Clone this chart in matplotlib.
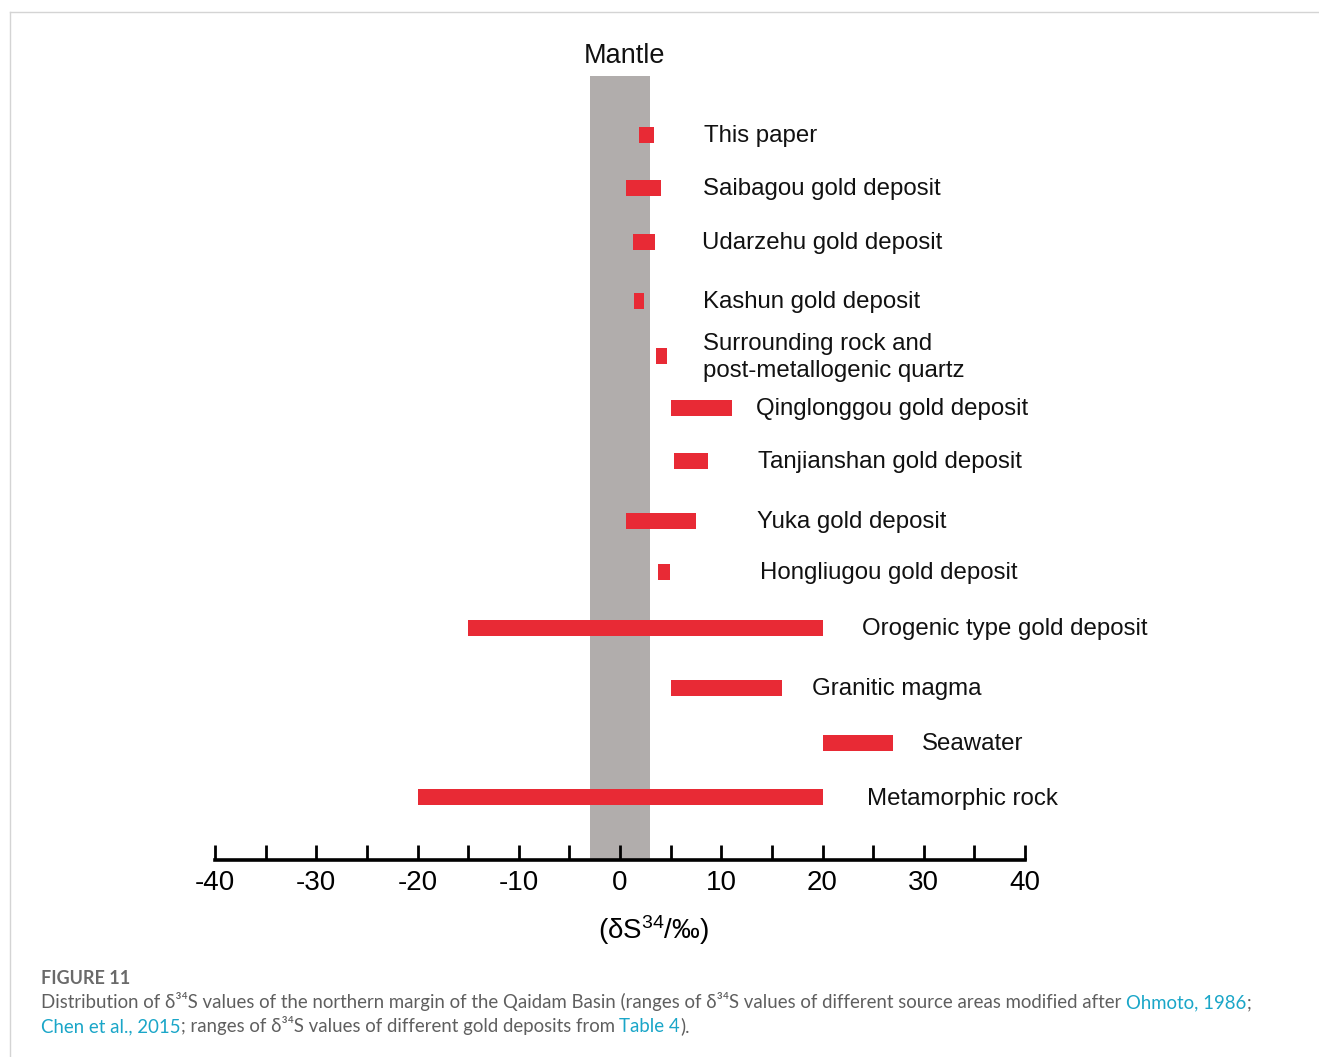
import matplotlib
matplotlib.use("Agg")
import matplotlib.pyplot as plt
from matplotlib.lines import Line2D

plt.rcParams["axes.unicode_minus"] = False
plt.rcParams["mathtext.fontset"] = "custom"
plt.rcParams["mathtext.rm"] = "Liberation Sans"
plt.rcParams["mathtext.it"] = "Liberation Sans"

# sources / deposits and their d34S ranges (per mil)
labels = ["This paper", "Saibagou gold deposit", "Udarzehu gold deposit",
          "Kashun gold deposit", "Surrounding rock and\npost-metallogenic quartz",
          "Qinglonggou gold deposit", "Tanjianshan gold deposit", "Yuka gold deposit",
          "Hongliugou gold deposit", "Orogenic type gold deposit", "Granitic magma",
          "Seawater", "Metamorphic rock"]
lows = [1.9, 0.6, 1.3, 1.4, 3.6, 5.0, 5.3, 0.6, 3.8, -15.0, 5.0, 20.0, -20.0]
highs = [3.4, 4.0, 3.5, 2.4, 4.6, 11.1, 8.7, 7.5, 4.9, 20.0, 16.0, 27.0, 20.0]
mantle = (-3, 3)
xticks = list(range(-40, 41, 5))

# layout (pixel rows of the bars, x of the labels in data units)
ypos = [135, 188, 242, 301, 356, 408, 461, 521, 572, 628, 688, 743, 797]
label_x = [8.3, 8.2, 8.1, 8.2, 8.2, 13.4, 13.6, 13.5, 13.8, 23.9, 19.0, 29.8, 24.4]

W, H = 1319, 1057
fig = plt.figure(figsize=(W / 100, H / 100), dpi=100)

# frame lines of the page
fig.add_artist(Line2D([10 / W, 1], [1 - 12 / H, 1 - 12 / H], color="#d4d4d4", lw=1))
fig.add_artist(Line2D([10 / W, 10 / W], [0, 1 - 12 / H], color="#d4d4d4", lw=1))

x0, x1, ytop, ybot = 215, 1025, 40, 860
ax = fig.add_axes([x0 / W, 1 - ybot / H, (x1 - x0) / W, (ybot - ytop) / H])
ax.set_xlim(-40, 40)
ax.set_ylim(ybot, ytop)

# mantle band
ax.axvspan(mantle[0], mantle[1], ymin=0, ymax=(ybot - 76) / (ybot - ytop),
           color="#b1adac", lw=0, zorder=1)
ax.text(0.4, 56, "Mantle", ha="center", va="center", fontsize=19.5,
        family="Liberation Sans", color="#111111")

red = "#e82a35"
for lo, hi, y, lab, lx in zip(lows, highs, ypos, labels, label_x):
    ax.barh(y, hi - lo, left=lo, height=16, color=red, lw=0, zorder=2)
    ax.text(lx, y + 1.5, lab, ha="left", va="center", fontsize=17.3,
            family="Liberation Sans", color="#111111", linespacing=1.25)

for s in ["top", "left", "right"]:
    ax.spines[s].set_visible(False)
ax.spines["bottom"].set_linewidth(2.6)
ax.spines["bottom"].set_zorder(3)
ax.set_yticks([])
ax.set_xticks([t for t in xticks if t % 10 == 0])
ax.set_xticks([t for t in xticks if t % 10 != 0], minor=True)
ax.tick_params(axis="x", which="both", direction="in", length=11, width=2, pad=7)
ax.tick_params(axis="x", which="major", labelsize=20)
for lab in ax.get_xticklabels():
    lab.set_family("Liberation Sans")

fig.text(653 / W, 1 - 930 / H, "(δS$^{34}$/‰)", ha="center", va="center",
         fontsize=20, family="Liberation Sans")

# caption
gray = "#5f5f5f"
cyan = "#1aa6c8"
cap_font = ["Lato", "DejaVu Sans"]
cap_size = 13.4
fig.text(41 / W, 1 - 978 / H, "FIGURE 11", ha="left", va="center", fontsize=13,
         fontweight="bold", color="#6a6a6a", family=cap_font)

line1 = [("Distribution of δ³⁴S values of the northern margin of the Qaidam Basin "
          "(ranges of δ³⁴S values of different source areas modified after ", gray),
         ("Ohmoto, 1986", cyan), (";", gray)]
line2 = [("Chen et al., 2015", cyan),
         ("; ranges of δ³⁴S values of different gold deposits from ", gray),
         ("Table 4", cyan), (").", gray)]

renderer = fig.canvas.get_renderer()


def chain(parts, x, y):
    # put the pieces one after another on the same baseline
    for s, c in parts:
        t = fig.text(x / W, 1 - y / H, s, color=c, ha="left", va="baseline",
                     fontsize=cap_size, family=cap_font)
        x += t.get_window_extent(renderer).width


chain(line1, 41, 1008)
chain(line2, 41, 1032)

fig.savefig("out.png", dpi=100)
